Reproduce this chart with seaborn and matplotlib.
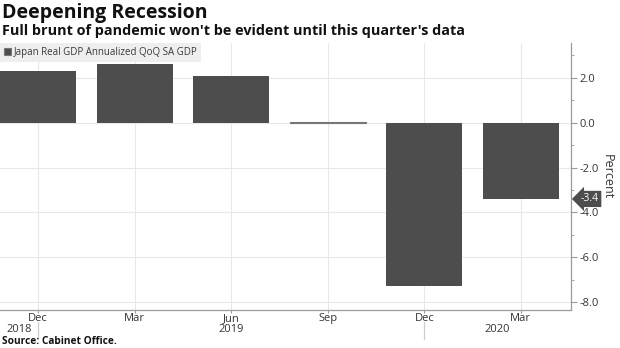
import matplotlib
matplotlib.use("Agg")
import matplotlib.pyplot as plt
import matplotlib.transforms as mtransforms
from matplotlib.ticker import MultipleLocator, FormatStrFormatter
import seaborn as sns
import pandas as pd

# ---- data ----
quarters = ["Dec 2018", "Mar 2019", "Jun 2019", "Sep 2019", "Dec 2019", "Mar 2020"]
month_labels = ["Dec", "Mar", "Jun", "Sep", "Dec", "Mar"]
gdp_values = [2.3, 2.6, 2.1, 0.02, -7.3, -3.4]
year_labels = ["2018", "2019", "2020"]
year_breaks = [0, 4]          # category index where a new year row separator sits
series_name = "Japan Real GDP Annualized QoQ SA GDP"

title = "Deepening Recession"
subtitle = "Full brunt of pandemic won't be evident until this quarter's data"
source = "Source: Cabinet Office."

df = pd.DataFrame({"quarter": quarters, "value": gdp_values, "series": series_name})

sns.set_theme(style="white")
plt.rcParams["font.family"] = ["Open Sans", "DejaVu Sans"]

BAR = "#4d4d4d"
GRID = "#e8e8e8"
AXC = "#9a9a9a"
TXT = "#333333"

fig = plt.figure(figsize=(6.2, 3.48), dpi=100)
ax = fig.add_axes([0.0, 1 - 310 / 348, 571 / 620, (310 - 43) / 348])

sns.barplot(data=df, x="quarter", y="value", hue="series", palette=[BAR],
            width=0.79, ax=ax, legend=True, saturation=1, linewidth=0.0)

# near-zero bar: thin edge so it stays visible
for p in ax.patches:
    if abs(p.get_height()) < 0.1:
        p.set_edgecolor("#777777")
        p.set_linewidth(0.8)

ax.set_xlim(-0.395, 5.52)
ax.set_ylim(-8.35, 3.55)

# y axis on the right
ax.yaxis.tick_right()
ax.yaxis.set_label_position("right")
ax.yaxis.set_major_locator(MultipleLocator(2))
ax.yaxis.set_minor_locator(MultipleLocator(1))
ax.yaxis.set_major_formatter(FormatStrFormatter("%.1f"))
ax.tick_params(axis="y", which="both", right=True, left=False, direction="out",
               color=AXC, labelsize=8, labelcolor=TXT, pad=2)
ax.tick_params(axis="y", which="major", length=4, width=0.8)
ax.tick_params(axis="y", which="minor", length=2.5, width=0.6)
ax.set_ylabel("Percent", rotation=270, labelpad=11, fontsize=9, color=TXT)

# x axis
ax.set_xticks(range(len(quarters)))
ax.set_xticklabels(month_labels)
ax.tick_params(axis="x", which="major", bottom=True, length=2, width=0.8, color=AXC,
               labelsize=8, labelcolor=TXT, pad=0.5)
ax.set_xlabel("")

# grid
ax.grid(True, axis="both", which="major", color=GRID, linewidth=0.8)
ax.set_axisbelow(True)

for s in ["top", "left"]:
    ax.spines[s].set_visible(False)
for s in ["right", "bottom"]:
    ax.spines[s].set_visible(True)
    ax.spines[s].set_color(AXC)
    ax.spines[s].set_linewidth(0.9)

# year row
trans = mtransforms.blended_transform_factory(ax.transData, ax.transAxes)
xmin, xmax = ax.get_xlim()
bounds = [xmin] + year_breaks + [xmax]
for i, yl in enumerate(year_labels):
    cx = (bounds[i] + bounds[i + 1]) / 2
    ax.text(cx, -0.072, yl, transform=trans, ha="center", va="center",
            fontsize=8, color=TXT)
for b in year_breaks:
    ax.plot([b, b], [-0.045, -0.11], transform=trans, color="#cccccc",
            linewidth=0.9, clip_on=False)

# legend
leg = ax.legend(loc="upper left", bbox_to_anchor=(0.0, 1.0), frameon=True,
                fontsize=7, handlelength=0.7, handleheight=0.7, handletextpad=0.3,
                borderpad=0.4, borderaxespad=0.0, fancybox=False)
leg.get_frame().set_facecolor("#eeeeee")
leg.get_frame().set_edgecolor("none")
leg.get_frame().set_alpha(1)
for t in leg.get_texts():
    t.set_color("#3a3a3a")

# last value tag
ax.annotate(f"{gdp_values[-1]:.1f}", xy=(1.0, gdp_values[-1]),
            xycoords=("axes fraction", "data"), xytext=(7, 0),
            textcoords="offset points", ha="left", va="center",
            fontsize=7.5, color="white",
            bbox=dict(boxstyle="larrow,pad=0.25", fc=BAR, ec="none"))

# titles
fig.text(0.003, 1 - 13 / 348, title, fontsize=14, fontweight="bold",
         color="#111111", ha="left", va="center")
fig.text(0.003, 1 - 31 / 348, subtitle, fontsize=10.4, fontweight="bold",
         color="#111111", ha="left", va="center")
fig.text(0.003, 1 - 342 / 348, source, fontsize=7.3, fontweight="bold",
         color="#111111", ha="left", va="center")

fig.savefig("out.png", dpi=100)
